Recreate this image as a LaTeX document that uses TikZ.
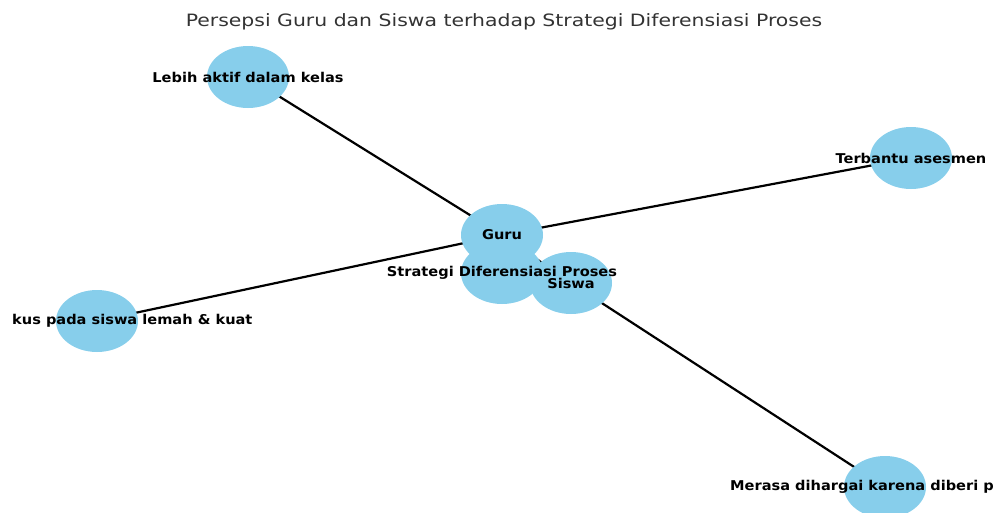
\documentclass[tikz,border=0pt]{standalone}
\usepackage{fontspec}
\usetikzlibrary{shapes.geometric}
\newfontfamily\lblfont[FakeStretch=1.08]{DejaVu Sans}
\newfontfamily\ttlfont[FakeStretch=1.2]{DejaVu Sans}
\definecolor{skyb}{HTML}{87CEEB}
\definecolor{ttlgray}{HTML}{333333}
\pgfdeclarelayer{background}
\pgfsetlayers{background,main}
\tikzset{
  nd/.style={ellipse, fill=skyb, draw=none, minimum width=82pt, minimum height=62pt, inner sep=0pt},
  lbl/.style={font=\lblfont\bfseries\fontsize{13.5}{14}\selectfont, text=black, inner sep=0pt},
  edge/.style={draw=black, line width=2.2pt}
}
\begin{document}
\begin{tikzpicture}[x=1pt,y=-1pt]
\useasboundingbox (0,0) rectangle (996,512);
\clip (0,0) rectangle (996,512);
\node[font=\ttlfont\fontsize{17}{19}\selectfont, text=ttlgray] (title) at (504,22) {Persepsi Guru dan Siswa terhadap Strategi Diferensiasi Proses};
\node[nd] (lebih) at (248,77) {};
\node[nd] (terbantu) at (911,158) {};
\node[nd] (guru) at (502,235) {};
\node[nd] (strategi) at (502,273) {};
\node[nd] (siswa) at (571,283) {};
\node[nd] (fokus) at (97,321) {};
\node[nd] (merasa) at (885,487) {};
\begin{pgfonlayer}{background}
\draw[edge] (guru.center) -- (lebih.center);
\draw[edge] (guru.center) -- (terbantu.center);
\draw[edge] (guru.center) -- (fokus.center);
\draw[edge] (guru.center) -- (siswa.center);
\draw[edge] (siswa.center) -- (merasa.center);
\end{pgfonlayer}
\node[lbl] (tlebih) at (lebih.center) {Lebih aktif dalam kelas};
\node[lbl] (tterbantu) at (terbantu.center) {Terbantu asesmen};
\node[lbl] (tguru) at (guru.center) {Guru};
\node[lbl] (tstrategi) at (strategi.center) {Strategi Diferensiasi Proses};
\node[lbl] (tsiswa) at (siswa.center) {Siswa};
\node[lbl, anchor=west] (tfokus) at (12,321) {kus pada siswa lemah \& kuat};
\node[lbl, anchor=west] (tmerasa) at (730,487) {Merasa dihargai karena diberi p};
\end{tikzpicture}
\end{document}
